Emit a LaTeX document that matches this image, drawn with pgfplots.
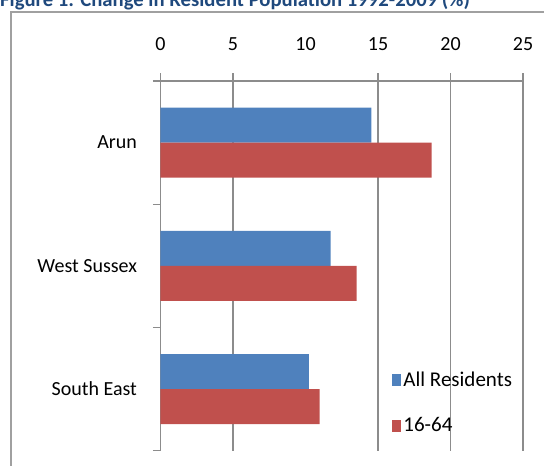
\documentclass[border=0pt]{standalone}
\usepackage{pgfplots}
\pgfplotsset{compat=1.18}
\usepackage{fontspec}
\setmainfont{Carlito}
\definecolor{barblue}{HTML}{4F81BD}
\definecolor{barred}{HTML}{C0504D}
\definecolor{titleblue}{HTML}{1F497D}
\definecolor{axgray}{HTML}{8C8C8C}
\definecolor{bordergray}{HTML}{A0A0A0}
\begin{document}
\begin{tikzpicture}[x=1pt,y=1pt]
\begin{axis}[
  at={(160.5pt,15.3pt)}, anchor=south west,
  scale only axis, width=362.5pt, height=369.7pt,
  xbar, bar width=0.284,
  xmin=0, xmax=25, ymin=-0.5, ymax=2.5,
  axis x line*=top, axis y line*=left,
  axis line style={axgray, line width=1.2pt, -},
  xtick={0,5,15,20,25},
  extra x ticks={10}, extra x tick style={grid=none, tick style={draw=none}},
  xmajorgrids, grid style={axgray, line width=1.2pt},
  ytick={-0.5,0.5,1.5,2.5}, yticklabels={},
  extra y ticks={0,1,2}, extra y tick labels={South East,West Sussex,Arun},
  extra y tick style={major tick length=0pt},
  tick align=outside, major tick length=7.5pt,
  tick style={axgray, line width=1.2pt},
  ticklabel style={font=\fontsize{20}{24}\selectfont, text=black},
  xticklabel style={yshift=19.5pt},
  yticklabel style={xshift=-20pt},
  /pgf/number format/assume math mode=true,
  legend style={at={(0.631,0.225)}, anchor=north west, draw=none, fill=none,
    font=\fontsize{21}{24}\selectfont, row sep=26pt, legend cell align=left},
  legend image code/.code={\fill[#1] (-8pt,-6pt) rectangle (1pt,6pt);},
]
\addplot[fill=barblue, draw=none, bar shift=0.142] coordinates {(14.55,2) (11.73,1) (10.24,0)};
\addplot[fill=barred, draw=none, bar shift=-0.142] coordinates {(18.7,2) (13.52,1) (10.97,0)};
\legend{All Residents,16-64}
\end{axis}
\node[anchor=base west, inner sep=0pt, font=\fontsize{20.7}{24}\selectfont\bfseries, text=titleblue] at (0pt,459pt) {Figure 1: Change in Resident Population 1992-2009 (\%)};
\draw[bordergray, line width=2pt] (11pt,-10pt) -- (11pt,454pt) -- (560pt,454pt);
\pgfresetboundingbox
\useasboundingbox (0pt,0pt) rectangle (544pt,466pt);
\end{tikzpicture}
\end{document}
